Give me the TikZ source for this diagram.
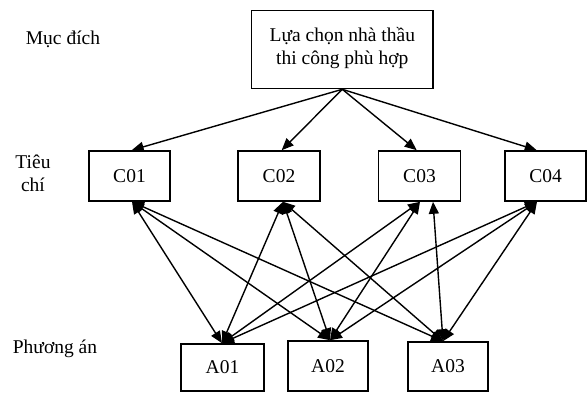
\documentclass[tikz,border=0pt]{standalone}
\usepackage{fontspec}
\setmainfont{Liberation Serif}
\usetikzlibrary{arrows.meta}
\begin{document}
\begin{tikzpicture}[x=1pt,y=-1pt,
  font=\fontsize{19.5}{23}\selectfont,
  box/.style={draw,line width=1.6pt,rectangle,inner sep=0pt,align=center},
  conn/.style={line width=1.4pt,-{Triangle[length=12pt,width=10pt]}},
  dconn/.style={line width=1.4pt,{Triangle[length=12pt,width=10pt]}-{Triangle[length=12pt,width=10pt]}},
  lbl/.style={inner sep=0pt,align=center}]
\useasboundingbox (0,0) rectangle (587,392);
% nodes
\node[box,minimum width=181.5pt,minimum height=78pt] (T) at (342.3,49.5) {Lựa chọn nhà thầu\\thi công phù hợp\\[-15pt]\mbox{}};
\node[box,minimum width=81pt,minimum height=50pt] (C1) at (129.5,176) {C01};
\node[box,minimum width=82pt,minimum height=50pt] (C2) at (279,176) {C02};
\node[box,minimum width=82pt,minimum height=50pt] (C3) at (419.5,176) {C03};
\node[box,minimum width=81pt,minimum height=50pt] (C4) at (545.5,176) {C04};
\node[box,minimum width=83pt,minimum height=47pt] (A1) at (222.5,367.5) {A01};
\node[box,minimum width=80pt,minimum height=50pt] (A2) at (328,366) {A02};
\node[box,minimum width=80pt,minimum height=49pt] (A3) at (448,366.5) {A03};
% side labels
\node[lbl] (L1) at (63,39) {Mục đích};
\node[lbl] (L2) at (33,173) {Tiêu\\chí};
\node[lbl] (L3) at (55,349) {Phương án};
% attach points
\coordinate (c1t) at ([xshift=2.2pt]C1.north);
\coordinate (c2t) at ([xshift=2.7pt]C2.north);
\coordinate (c3t) at ([xshift=-2.8pt]C3.north);
\coordinate (c4t) at ([xshift=-8.8pt]C4.north);
\coordinate (c1b) at ([xshift=2.5pt]C1.south);
\coordinate (c2b) at ([xshift=4pt]C2.south);
\coordinate (c3b) at ([xshift=0.5pt]C3.south);
\coordinate (c3c) at ([xshift=13.5pt]C3.south);
\coordinate (c4b) at ([xshift=-8.5pt]C4.south);
\coordinate (a1t) at ([xshift=-0.5pt]A1.north);
\coordinate (a2t) at ([xshift=2pt]A2.north);
\coordinate (a3t) at ([xshift=-5pt]A3.north);
% top connectors
\draw[conn] (T.south) -- (c1t);
\draw[conn] (T.south) -- (c2t);
\draw[conn] (T.south) -- (c3t);
\draw[conn] (T.south) -- (c4t);
% criteria - alternatives
\draw[dconn] (c1b) -- (a1t);
\draw[dconn] (c1b) -- (a2t);
\draw[dconn] (c1b) -- (a3t);
\draw[dconn] (c2b) -- (a1t);
\draw[dconn] (c2b) -- (a2t);
\draw[dconn] (c2b) -- (a3t);
\draw[dconn] (c3b) -- (a1t);
\draw[dconn] (c3b) -- (a2t);
\draw[dconn] (c3c) -- (a3t);
\draw[dconn] (c4b) -- (a1t);
\draw[dconn] (c4b) -- (a2t);
\draw[dconn] (c4b) -- (a3t);
\end{tikzpicture}
\end{document}
